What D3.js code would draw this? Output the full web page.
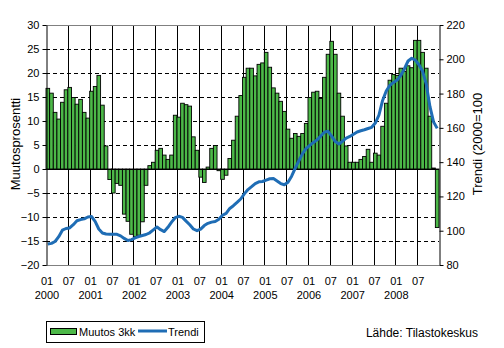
<!DOCTYPE html>
<html>
<head>
<meta charset="utf-8">
<script src="https://cdn.jsdelivr.net/npm/d3@7"></script>
<style>
  html, body { margin: 0; padding: 0; background: #fff; }
  svg { display: block; font-family: "Liberation Sans", Arial, sans-serif; }
</style>
</head>
<body>
<svg id="chart" width="504" height="348"></svg>
<script>
// Monthly data 2000-01 .. 2008-12
const years = ["2000", "2001", "2002", "2003", "2004", "2005", "2006", "2007", "2008"];
const monthTicks = ["01", "07"];

// 3-month change, percent
const change3m = [
  16.8, 15.8, 11.8, 10.4, 13.9, 16.5, 17.0, 14.9, 13.5, 14.5, 11.8, 10.6,
  16.2, 17.2, 19.5, 13.3, 4.8, -2.2, -5.0, -3.0, -3.4, -9.4, -10.9, -13.6,
  -14.1, -13.8, -11.0, -3.4, 0.7, 1.4, 3.9, 4.3, 2.9, 2.0, 2.9, 11.2,
  10.8, 13.7, 13.4, 13.1, 6.7, 3.9, -1.7, -2.8, 0.4, 4.3, 4.9, -0.35,
  -2.15, -1.3, 2.2, 6.0, 11.0, 15.3, 19.1, 21.0, 21.0, 19.4, 21.8, 22.1,
  24.3, 21.2, 16.9, 15.8, 14.1, 12.0, 8.3, 6.4, 7.4, 6.8, 7.4, 9.5,
  14.9, 16.0, 16.2, 14.7, 19.1, 23.9, 26.6, 23.9, 15.8, 11.0, 4.8, 1.4,
  1.4, 1.4, 2.0, 2.6, 4.1, 1.4, 3.3, 2.9, 8.9, 13.7, 18.5, 19.7,
  19.5, 21.0, 20.3, 21.5, 21.1, 26.8, 26.8, 24.3, 21.0, 11.0, 0.2, -12.2
];

// Trend index (2000=100)
const trend = [
  92.2, 92.6, 93.7, 96.5, 100.3, 101.3, 101.6, 103.5, 105.8, 106.5, 106.9, 108.0,
  108.3, 105.5, 101.0, 98.7, 98.1, 98.0, 98.0, 97.9, 97.0, 95.5, 94.3, 94.8,
  95.8, 96.6, 97.2, 97.8, 98.8, 100.5, 102.2, 100.6, 99.5, 102.0, 105.0, 107.6,
  108.4, 107.8, 105.6, 103.5, 101.0, 100.0, 100.9, 103.0, 104.3, 105.0, 105.4, 106.7,
  109.0, 110.1, 113.0, 114.6, 116.5, 118.5, 121.5, 124.0, 125.7, 127.5, 128.5, 128.7,
  129.5, 130.3, 130.4, 129.0, 127.5, 126.8, 128.3, 131.8, 136.5, 140.8, 145.0, 148.0,
  149.8, 151.5, 153.0, 155.2, 157.5, 158.0, 155.2, 152.0, 150.6, 152.2, 154.0, 155.0,
  156.3, 157.6, 158.3, 158.9, 159.6, 160.3, 162.8, 167.5, 176.0, 181.5, 184.8, 186.5,
  187.9, 190.5, 194.5, 199.0, 200.6, 199.5, 196.8, 193.0, 185.5, 172.5, 163.5, 159.7
];

const leftTicks = [-20, -15, -10, -5, 0, 5, 10, 15, 20, 25, 30];
const rightTicks = [80, 100, 120, 140, 160, 180, 200, 220];

const months = change3m.map((_, i) => i);

const plot = { left: 46, right: 439, top: 25, bottom: 265 };
const svg = d3.select("#chart");

const x = d3.scaleBand().domain(months).range([plot.left, plot.right]).padding(0);
const yL = d3.scaleLinear().domain([-20, 30]).range([plot.bottom, plot.top]);
const yR = d3.scaleLinear().domain([80, 220]).range([plot.bottom, plot.top]);

// dashed horizontal gridlines
svg.append("g")
  .selectAll("line")
  .data(leftTicks.filter(v => v !== 0 && v !== 30 && v !== -20))
  .join("line")
  .attr("x1", plot.left).attr("x2", plot.right)
  .attr("y1", d => Math.round(yL(d)) + 0.5).attr("y2", d => Math.round(yL(d)) + 0.5)
  .attr("stroke", "#000").attr("stroke-width", 1).attr("stroke-dasharray", "4,3");

// vertical gridlines at January and July
const halfYear = months.filter(i => i % 6 === 0 && i > 0);
svg.append("g")
  .selectAll("line")
  .data(halfYear)
  .join("line")
  .attr("x1", d => Math.round(x(d)) + 0.5).attr("x2", d => Math.round(x(d)) + 0.5)
  .attr("y1", plot.top).attr("y2", plot.bottom)
  .attr("stroke", "#000").attr("stroke-width", 1);

// bars
svg.append("g")
  .selectAll("rect")
  .data(change3m)
  .join("rect")
  .attr("x", (d, i) => x(i))
  .attr("width", x.bandwidth())
  .attr("y", d => yL(Math.max(0, d)))
  .attr("height", d => Math.abs(yL(d) - yL(0)))
  .attr("fill", "#4cb848")
  .attr("stroke", "#000")
  .attr("stroke-width", 0.9);

// zero line
svg.append("line")
  .attr("x1", plot.left).attr("x2", plot.right)
  .attr("y1", Math.round(yL(0)) + 0.5).attr("y2", Math.round(yL(0)) + 0.5)
  .attr("stroke", "#000");

// plot frame top/bottom
svg.append("line").attr("x1", plot.left).attr("x2", plot.right)
  .attr("y1", plot.top + 0.5).attr("y2", plot.top + 0.5).attr("stroke", "#808080");
svg.append("line").attr("x1", plot.left).attr("x2", plot.right)
  .attr("y1", plot.bottom + 0.5).attr("y2", plot.bottom + 0.5).attr("stroke", "#808080");

// trend line
const line = d3.line()
  .x((d, i) => x(i) + x.bandwidth() / 2)
  .y(d => yR(d));
svg.append("path")
  .datum(trend)
  .attr("d", line)
  .attr("fill", "none")
  .attr("stroke", "#1f6db5")
  .attr("stroke-width", 3)
  .attr("stroke-linejoin", "round");

// left axis
const axL = svg.append("g")
  .attr("transform", `translate(${plot.left + 0.5},0)`)
  .call(d3.axisLeft(yL).tickValues(leftTicks).tickSize(4).tickSizeOuter(0).tickPadding(3));
axL.select(".domain").attr("stroke", "#000");
axL.selectAll("text").attr("font-size", 11).attr("font-family", "Liberation Sans, Arial, sans-serif").attr("fill", "#000");

// right axis
const axR = svg.append("g")
  .attr("transform", `translate(${plot.right + 0.5},0)`)
  .call(d3.axisRight(yR).tickValues(rightTicks).tickSize(4).tickSizeOuter(0).tickPadding(3));
axR.select(".domain").attr("stroke", "#000");
axR.selectAll("text").attr("font-size", 11).attr("font-family", "Liberation Sans, Arial, sans-serif").attr("fill", "#000");

// month / year labels
const xLab = svg.append("g").attr("font-size", 11).attr("text-anchor", "middle").attr("fill", "#000");
months.filter(i => i % 6 === 0).forEach(i => {
  xLab.append("text")
    .attr("x", x(i) + 1)
    .attr("y", 285)
    .text(monthTicks[(i % 12) / 6]);
});
years.forEach((yr, k) => {
  xLab.append("text")
    .attr("x", x(k * 12) + 1)
    .attr("y", 299)
    .text(yr);
});

// axis titles
svg.append("text")
  .attr("transform", "translate(20,144) rotate(-90)")
  .attr("text-anchor", "middle")
  .attr("font-size", 13)
  .attr("fill", "#000")
  .text("Muutosprosentti");
svg.append("text")
  .attr("transform", "translate(482,144) rotate(-90)")
  .attr("text-anchor", "middle")
  .attr("font-size", 13)
  .attr("fill", "#000")
  .text("Trendi (2000=100");

// legend
const lg = svg.append("g");
lg.append("rect").attr("x", 46.5).attr("y", 321.5).attr("width", 158).attr("height", 21)
  .attr("fill", "#fff").attr("stroke", "#000");
lg.append("rect").attr("x", 50.5).attr("y", 328.5).attr("width", 26).attr("height", 6)
  .attr("fill", "#4cb848").attr("stroke", "#000");
lg.append("text").attr("x", 79).attr("y", 336).attr("font-size", 11).attr("fill", "#000").text("Muutos 3kk");
lg.append("line").attr("x1", 138).attr("x2", 167).attr("y1", 331).attr("y2", 331)
  .attr("stroke", "#1f6db5").attr("stroke-width", 3);
lg.append("text").attr("x", 168).attr("y", 336).attr("font-size", 11).attr("fill", "#000").text("Trendi");

svg.append("text")
  .attr("x", 478).attr("y", 337)
  .attr("text-anchor", "end")
  .attr("font-size", 12)
  .attr("fill", "#000")
  .text("Lähde: Tilastokeskus");
</script>
</body>
</html>
